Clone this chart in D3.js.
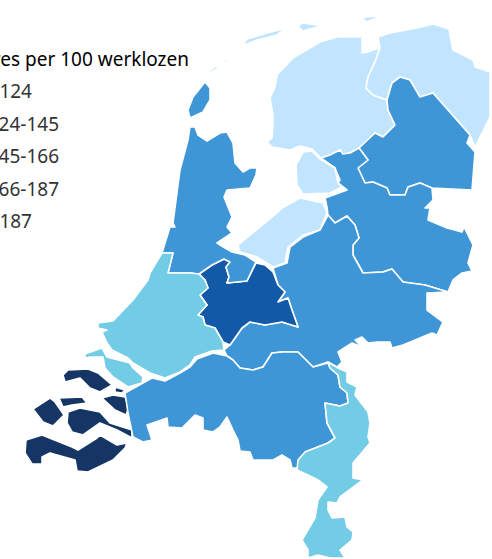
<!DOCTYPE html>
<html>
<head>
<meta charset="utf-8">
<script src="https://cdn.jsdelivr.net/npm/d3@7"></script>
<style>
    html, body { margin: 0; padding: 0; background: #fff; overflow: hidden; }
    text { font-family: "Noto Sans", sans-serif; }
</style>
</head>
<body>
<svg class="map" width="492" height="559"></svg>
<script>
// Legend
const legendTitle = 'Vacatures per 100 werklozen';
const legendLabels = ['<124', '124-145', '145-166', '166-187', '>187'];
const thresholds = [124, 145, 166, 187];
const colours = ['#c2e5ff', '#73cce6', '#3f96d6', '#1259a8', '#153665'];

const regionNames = ['Friesland', 'Groningen', 'Drenthe', 'Overijssel', 'Flevoland', 'Gelderland',
    'Utrecht', 'Noord-Holland', 'Zuid-Holland', 'Zeeland', 'Noord-Brabant', 'Limburg'];
const regionValues = [112, 115, 155, 156, 118, 158, 176, 160, 135, 195, 152, 138];

// Outlines in map units, one list of rings per region
const regionRings = [
    // Friesland
    [[[362,37],[337,37],[320,42],[293,58],[277,75],[275,87],[270,98],[273,115],[273,125],[272,138],[267,142],[272,147],[290,150],[300,146],[312,149],[321,158],[330,155],[340,150],[343,154],[350,153],[359,148],[375,133],[383,137],[395,125],[388,110],[387,100],[373,95],[366,88],[368,77],[375,62],[380,48],[373,50],[368,52],[362,53]],
     [[243,45],[247,39],[267,33],[287,28],[277,35],[257,40],[245,45]],
     [[298,27],[302,23],[317,25],[333,23],[317,27],[303,31]],
     [[361,18],[380,15],[385,14],[367,22]],
     [[205,74],[217,65],[218,68],[208,74]],
     [[220,62],[232,57],[226,62]]],
    // Groningen
    [[[380,48],[378,37],[390,33],[417,28],[433,24],[449,29],[453,50],[473,60],[475,67],[490,72],[490,117],[475,147],[470,135],[433,93],[420,97],[410,80],[400,77],[392,83],[387,100],[373,95],[366,88],[368,77],[375,62]]],
    // Drenthe
    [[[387,100],[392,83],[400,77],[410,80],[420,97],[433,93],[470,135],[467,143],[475,152],[472,190],[432,188],[420,183],[408,187],[405,195],[390,195],[387,188],[373,182],[365,183],[358,168],[368,160],[359,148],[375,133],[383,137],[395,125],[388,110]]],
    // Overijssel
    [[[321,158],[330,155],[340,150],[343,154],[350,153],[359,148],[368,160],[358,168],[365,183],[373,182],[387,188],[390,195],[405,195],[408,187],[420,183],[432,188],[433,200],[425,208],[430,208],[428,220],[447,228],[462,232],[464,227],[473,245],[468,263],[472,271],[462,273],[453,280],[448,292],[425,285],[403,282],[392,269],[383,272],[363,273],[353,255],[353,245],[359,238],[355,225],[347,216],[335,223],[328,215],[327,207],[325,198],[347,190],[338,183],[340,180],[335,168]]],
    // Flevoland
    [[[303,152],[312,151],[320,159],[335,168],[338,183],[342,187],[330,193],[303,194],[297,185],[296,165]],
     [[300,198],[323,203],[327,213],[320,230],[303,235],[288,247],[285,263],[273,267],[257,257],[240,252],[238,245],[277,213],[282,208]]],
    // Gelderland
    [[[273,268],[287,263],[290,247],[303,237],[320,230],[328,215],[335,223],[347,216],[355,225],[359,238],[353,245],[353,255],[363,273],[383,272],[392,269],[403,282],[425,285],[448,292],[427,293],[427,310],[443,322],[437,335],[432,333],[403,345],[392,348],[390,342],[377,342],[368,343],[362,337],[355,340],[362,347],[352,343],[338,352],[342,362],[337,367],[328,362],[313,367],[298,352],[282,352],[272,353],[263,367],[253,370],[240,368],[233,360],[227,356],[224,350],[230,345],[242,328],[250,322],[265,325],[282,322],[298,327],[292,310],[288,298],[278,302],[285,292],[278,285]]],
    // Utrecht
    [[[199,274],[212,265],[224,259],[230,262],[226,267],[229,277],[227,283],[247,281],[256,263],[265,265],[273,272],[278,285],[285,292],[278,302],[288,298],[292,310],[298,327],[282,322],[265,325],[250,322],[242,328],[230,345],[223,342],[215,328],[205,325],[203,317],[198,315],[207,305],[200,295],[208,288],[205,280]]],
    // Noord-Holland
    [[[190,127],[195,127],[198,135],[207,141],[220,133],[227,132],[233,143],[235,163],[243,172],[250,168],[257,168],[256,175],[250,188],[227,190],[224,197],[232,217],[227,227],[232,233],[217,243],[225,248],[232,252],[245,255],[256,262],[247,281],[227,283],[229,277],[226,267],[230,262],[224,259],[212,265],[199,274],[190,273],[183,273],[168,273],[173,253],[162,253],[170,227],[175,227],[173,223],[180,170],[188,140]],
     [[205,82],[210,88],[210,100],[203,112],[190,118],[188,110],[193,97]]],
    // Zuid-Holland
    [[[150,273],[162,253],[173,253],[168,273],[183,273],[190,273],[199,274],[205,280],[208,288],[200,295],[207,305],[198,315],[203,317],[205,325],[215,328],[223,342],[224,350],[212,351],[195,357],[190,365],[180,372],[165,378],[150,373],[133,363],[128,358],[112,350],[107,343],[102,332],[107,330],[98,328],[98,323],[113,321],[133,300],[148,280]],
     [[85,354],[102,348],[107,357],[130,363],[133,368],[143,377],[142,383],[128,387],[113,377],[105,368],[103,357],[90,357],[85,358]]],
    // Zeeland
    [[[63,375],[68,370],[88,369],[98,373],[112,385],[100,392],[90,388],[80,378],[65,382]],
     [[115,387],[125,390],[122,393],[115,392]],
     [[59,398],[82,397],[87,403],[72,405],[63,407]],
     [[102,398],[113,395],[125,397],[129,407],[126,415],[115,410]],
     [[33,409],[50,398],[55,402],[64,415],[53,426],[43,422]],
     [[68,412],[80,408],[100,412],[110,423],[132,430],[132,438],[117,430],[100,423],[83,435],[72,432],[67,423]],
     [[26,440],[42,435],[72,447],[78,450],[97,438],[100,435],[117,445],[127,443],[125,448],[113,460],[88,472],[77,471],[75,460],[50,453],[42,457],[42,464],[32,464],[25,453]]],
    // Noord-Brabant
    [[[152,378],[165,381],[180,373],[190,367],[197,359],[213,353],[227,356],[233,360],[240,368],[253,370],[263,367],[272,353],[282,352],[298,352],[313,367],[328,363],[330,368],[338,375],[340,387],[347,393],[348,403],[340,406],[325,403],[327,423],[335,438],[328,443],[305,452],[298,468],[292,468],[290,460],[282,455],[273,460],[263,460],[253,460],[250,452],[240,451],[238,440],[233,430],[227,417],[220,427],[213,432],[203,430],[203,418],[195,415],[182,428],[168,427],[167,418],[147,425],[152,440],[143,442],[133,437],[128,413],[125,393]]],
    // Limburg
    [[[328,362],[338,368],[347,372],[347,382],[357,387],[355,395],[368,412],[370,423],[368,437],[370,443],[353,463],[353,478],[363,480],[340,497],[337,503],[328,502],[328,510],[332,518],[345,517],[347,527],[353,532],[352,540],[340,550],[345,558],[330,558],[318,555],[308,558],[308,550],[302,540],[315,518],[318,500],[327,487],[318,480],[310,476],[297,470],[298,460],[305,452],[328,443],[335,438],[327,423],[325,403],[340,406],[348,403],[347,393],[340,387],[338,375],[330,368]]]
];

let svg = d3.select('.map');

const colorScale = d3.scaleThreshold()
    .domain(thresholds)
    .range(colours);

// The outlines are already in map units, so no real projection is needed
const path = d3.geoPath(d3.geoIdentity());

const regions = regionNames.map((name, i) => {
    return {
        type: 'Feature',
        properties: {name: name, value: regionValues[i]},
        geometry: {
            type: 'MultiPolygon',
            coordinates: regionRings[i].map((ring) => {return [ring.concat([ring[0]])];})
        }
    };
});

svg.append('g')
    .selectAll('path')
    .data(regions)
    .enter()
    .append('path')
    .attr('d', path)
    .attr('fill', (d) => {return colorScale(d.properties.value);})
    .attr('stroke', '#fff')
    .attr('stroke-width', 1.6)
    .attr('stroke-linejoin', 'round');

// Legend text runs off the left edge in the reference
svg.append('text')
    .attr('x', 189)
    .attr('y', 66)
    .attr('text-anchor', 'end')
    .attr('font-size', 19)
    .attr('fill', '#000')
    .text(legendTitle);

const legendY = d3.scalePoint()
    .domain(legendLabels)
    .range([98, 228]);

svg.append('g')
    .selectAll('text')
    .data(legendLabels)
    .enter()
    .append('text')
    .attr('x', (d, i) => {return (i === 0 || i === 4) ? 32 : 59;})
    .attr('y', (d) => {return legendY(d);})
    .attr('text-anchor', 'end')
    .attr('font-size', 19)
    .attr('fill', '#333')
    .text((d) => {return d;});
</script>
</body>
</html>
